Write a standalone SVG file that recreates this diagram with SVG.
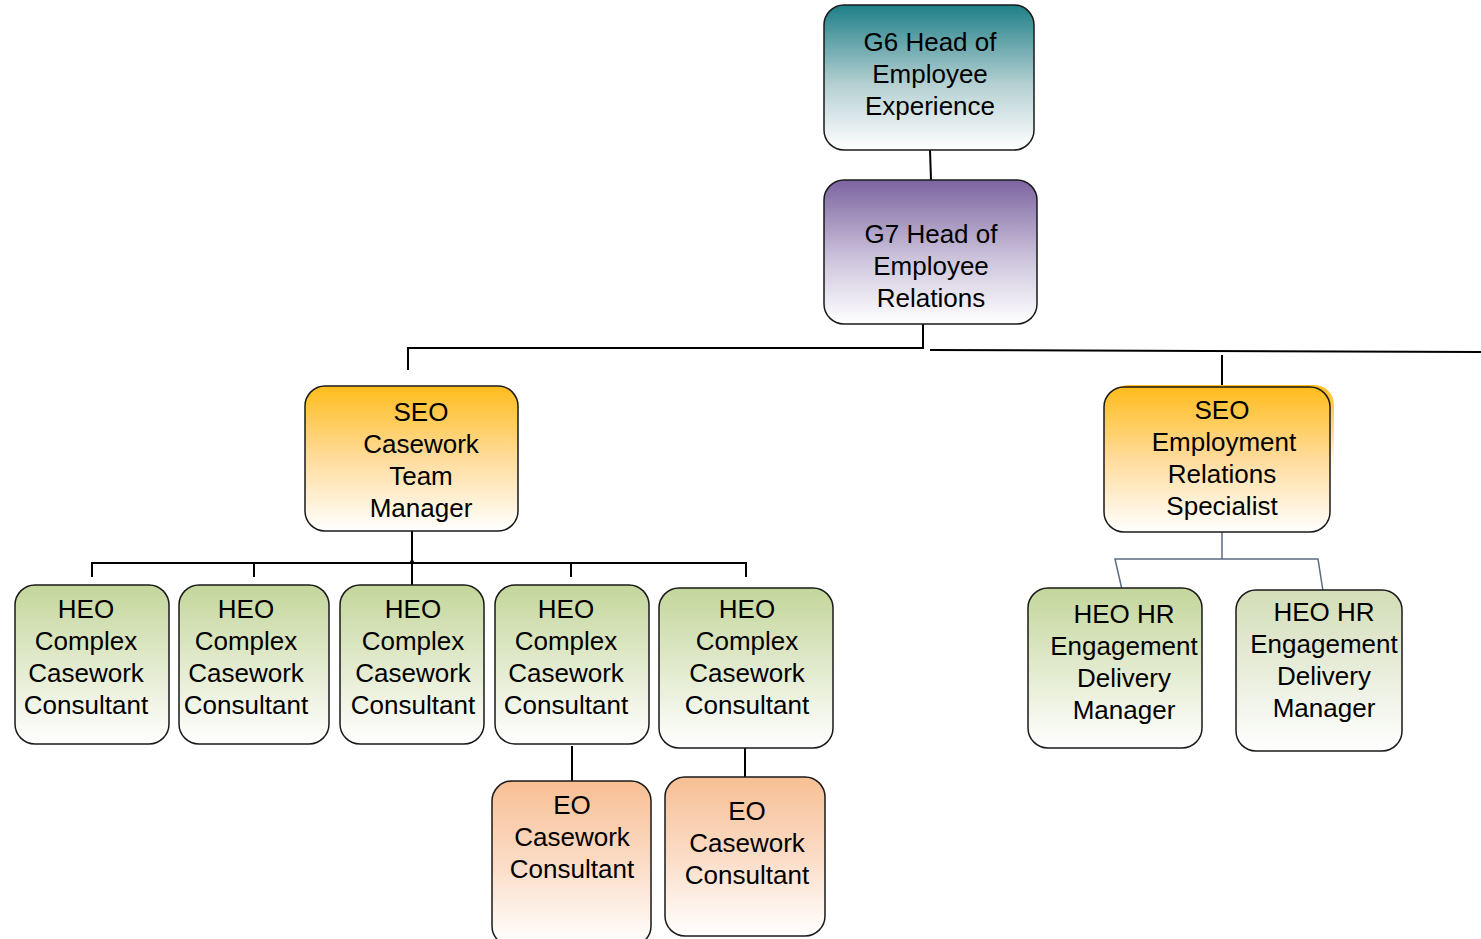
<svg xmlns="http://www.w3.org/2000/svg" width="1481" height="939" viewBox="0 0 1481 939">
<defs>
<linearGradient id="gTeal" x1="0" y1="0" x2="0" y2="1"><stop offset="0" stop-color="#1e7f88"/><stop offset="0.55" stop-color="#b5d0d2"/><stop offset="1" stop-color="#ffffff"/></linearGradient>
<linearGradient id="gPurple" x1="0" y1="0" x2="0" y2="1"><stop offset="0" stop-color="#7c64a0"/><stop offset="0.55" stop-color="#cdc4dc"/><stop offset="1" stop-color="#ffffff"/></linearGradient>
<linearGradient id="gOrange" x1="0" y1="0" x2="0" y2="1"><stop offset="0" stop-color="#ffbc1c"/><stop offset="0.5" stop-color="#ffdc9c"/><stop offset="1" stop-color="#ffffff"/></linearGradient>
<linearGradient id="gShadow" x1="0" y1="0" x2="0" y2="1"><stop offset="0" stop-color="#ffbc1c"/><stop offset="0.35" stop-color="#ffe0a8"/><stop offset="0.7" stop-color="#ffffff" stop-opacity="0"/></linearGradient>
<linearGradient id="gGreen" x1="0" y1="0" x2="0" y2="1"><stop offset="0" stop-color="#c3d69b"/><stop offset="0.45" stop-color="#dfe8c8"/><stop offset="1" stop-color="#ffffff"/></linearGradient>
<linearGradient id="gGreen2" x1="0" y1="0" x2="0" y2="1"><stop offset="0" stop-color="#d3ddb6"/><stop offset="0.5" stop-color="#e8eddb"/><stop offset="1" stop-color="#ffffff"/></linearGradient>
<linearGradient id="gPeach" x1="0" y1="0" x2="0" y2="1"><stop offset="0" stop-color="#f7bf94"/><stop offset="0.5" stop-color="#fbdcc6"/><stop offset="1" stop-color="#ffffff"/></linearGradient>
</defs>
<style>
.box{stroke:#1a1a1a;stroke-width:1.5}
.t{font-family:"Liberation Sans",Arial,sans-serif;font-size:26px;fill:#000;text-anchor:middle}
.c{fill:none;stroke:#000;stroke-width:2}
.cb{fill:none;stroke:#5b6b82;stroke-width:1.5}
</style>
<g id="connectors">
<line class="c" x1="930" y1="150" x2="931" y2="180"/>
<polyline class="c" points="923,324 923,348 408,348 408,370"/>
<line class="c" x1="930" y1="350" x2="1481" y2="352"/>
<line class="c" x1="1222" y1="355" x2="1222" y2="387"/>
<line class="c" x1="412" y1="531" x2="412" y2="585"/>
<polyline class="c" points="92,577 92,563 746,563 746,577"/>
<line class="c" x1="254" y1="563" x2="254" y2="577"/>
<line class="c" x1="571" y1="563" x2="571" y2="577"/>
<circle cx="412" cy="562" r="2" fill="#000"/>
<line class="c" x1="572" y1="746" x2="572" y2="781"/>
<line class="c" x1="745" y1="748" x2="745" y2="777"/>
<polyline class="cb" points="1123,594 1115,559 1318,559 1323,591"/>
<line class="cb" x1="1222" y1="532" x2="1222" y2="559"/>
</g>
<g id="g6">
<rect class="box" x="824" y="5" width="210" height="145" rx="20" fill="url(#gTeal)"/>
<text class="t" x="930" y="51">G6 Head of</text>
<text class="t" x="930" y="83">Employee</text>
<text class="t" x="930" y="115">Experience</text>
</g>
<g id="g7">
<rect class="box" x="824" y="180" width="213" height="144" rx="20" fill="url(#gPurple)"/>
<text class="t" x="931" y="243">G7 Head of</text>
<text class="t" x="931" y="275">Employee</text>
<text class="t" x="931" y="307">Relations</text>
</g>
<g id="seo-casework">
<rect class="box" x="305" y="386" width="213" height="145" rx="20" fill="url(#gOrange)"/>
<text class="t" x="421" y="421">SEO</text>
<text class="t" x="421" y="453">Casework</text>
<text class="t" x="421" y="485">Team</text>
<text class="t" x="421" y="517">Manager</text>
</g>
<g id="seo-er">
<rect x="1108" y="385" width="226" height="145" rx="20" fill="url(#gShadow)"/>
<rect class="box" x="1104" y="387" width="226" height="145" rx="20" fill="url(#gOrange)"/>
<text class="t" x="1222" y="419">SEO</text>
<text class="t" x="1224" y="451">Employment</text>
<text class="t" x="1222" y="483">Relations</text>
<text class="t" x="1222" y="515">Specialist</text>
</g>
<g id="heo1">
<rect class="box" x="15" y="585" width="154" height="159" rx="20" fill="url(#gGreen)"/>
<text class="t" x="86" y="618">HEO</text>
<text class="t" x="86" y="650">Complex</text>
<text class="t" x="86" y="682">Casework</text>
<text class="t" x="86" y="714">Consultant</text>
</g>
<g id="heo2">
<rect class="box" x="179" y="585" width="150" height="159" rx="20" fill="url(#gGreen)"/>
<text class="t" x="246" y="618">HEO</text>
<text class="t" x="246" y="650">Complex</text>
<text class="t" x="246" y="682">Casework</text>
<text class="t" x="246" y="714">Consultant</text>
</g>
<g id="heo3">
<rect class="box" x="340" y="585" width="144" height="159" rx="20" fill="url(#gGreen)"/>
<text class="t" x="413" y="618">HEO</text>
<text class="t" x="413" y="650">Complex</text>
<text class="t" x="413" y="682">Casework</text>
<text class="t" x="413" y="714">Consultant</text>
</g>
<g id="heo4">
<rect class="box" x="495" y="585" width="154" height="159" rx="20" fill="url(#gGreen)"/>
<text class="t" x="566" y="618">HEO</text>
<text class="t" x="566" y="650">Complex</text>
<text class="t" x="566" y="682">Casework</text>
<text class="t" x="566" y="714">Consultant</text>
</g>
<g id="heo5">
<rect class="box" x="659" y="588" width="174" height="160" rx="20" fill="url(#gGreen)"/>
<text class="t" x="747" y="618">HEO</text>
<text class="t" x="747" y="650">Complex</text>
<text class="t" x="747" y="682">Casework</text>
<text class="t" x="747" y="714">Consultant</text>
</g>
<g id="eo1">
<rect class="box" x="492" y="781" width="159" height="165" rx="20" fill="url(#gPeach)"/>
<text class="t" x="572" y="814">EO</text>
<text class="t" x="572" y="846">Casework</text>
<text class="t" x="572" y="878">Consultant</text>
</g>
<g id="eo2">
<rect class="box" x="665" y="777" width="160" height="159" rx="20" fill="url(#gPeach)"/>
<text class="t" x="747" y="820">EO</text>
<text class="t" x="747" y="852">Casework</text>
<text class="t" x="747" y="884">Consultant</text>
</g>
<g id="heohr1">
<rect class="box" x="1028" y="588" width="174" height="160" rx="20" fill="url(#gGreen)"/>
<text class="t" x="1124" y="623">HEO HR</text>
<text class="t" x="1124" y="655">Engagement</text>
<text class="t" x="1124" y="687">Delivery</text>
<text class="t" x="1124" y="719">Manager</text>
</g>
<g id="heohr2">
<rect class="box" x="1236" y="590" width="166" height="161" rx="20" fill="url(#gGreen2)" stroke="#444"/>
<text class="t" x="1324" y="621">HEO HR</text>
<text class="t" x="1324" y="653">Engagement</text>
<text class="t" x="1324" y="685">Delivery</text>
<text class="t" x="1324" y="717">Manager</text>
</g>
</svg>
